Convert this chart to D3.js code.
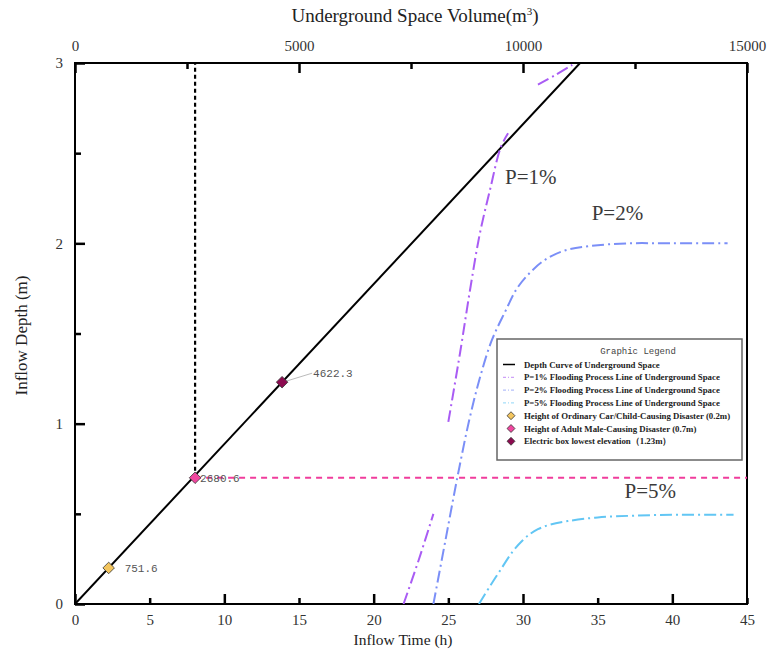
<!DOCTYPE html>
<html>
<head>
<meta charset="utf-8">
<script src="https://cdn.jsdelivr.net/npm/d3@7"></script>
<style>
  body { margin: 0; background: #fff; }
  svg { display: block; }
</style>
</head>
<body>
<script>
'use strict';

// ---- data ----
const timeTicks = [0, 5, 10, 15, 20, 25, 30, 35, 40, 45];
const volumeTicks = [0, 5000, 10000, 15000];
const depthTicks = [0, 1, 2, 3];

// depth curve of underground space: volume (m3) vs depth (m)
const depthCurveVolume = [0, 11274];
const depthCurveDepth = [0, 3];

// flooding process lines (time h, depth m); null = gap in the drawn line
const p1Time  = [22.0, 23.0, 24.0, null, 25.0, 25.8, 26.45, 27.1, 27.8, 28.5, 29.0, null, 31.0, 32.1, 33.3];
const p1Depth = [0, 0.24, 0.5, null, 1.01, 1.40, 1.74, 2.05, 2.30, 2.53, 2.61, null, 2.88, 2.93, 2.99];

const p2Time  = [24.0, 24.8, 25.6, 26.4, 27.1, 27.9, 28.8, 29.6, 30.5, 31.5, 32.8, 34.5, 37.0, 40.0, 43.7];
const p2Depth = [0, 0.35, 0.70, 1.02, 1.25, 1.46, 1.62, 1.75, 1.84, 1.91, 1.96, 1.985, 2.0, 2.0, 2.0];

const p5Time  = [27.05, 27.8, 28.5, 29.3, 30.0, 30.5, 31.0, 31.8, 33.0, 35.0, 37.5, 40.5, 44.1];
const p5Depth = [0, 0.10, 0.19, 0.29, 0.355, 0.39, 0.415, 0.44, 0.46, 0.48, 0.49, 0.495, 0.495];

// critical heights on the depth curve
const markerVolume = [751.6, 2680.6, 4622.3];
const markerDepth = [0.2, 0.7, 1.23];

const seriesNames = ['P=1%', 'P=2%', 'P=5%'];
const seriesLabelTime = [28.8, 34.6, 36.8];
const seriesLabelDepth = [2.33, 2.13, 0.59];

const legendLabels = [
  'Depth Curve of Underground Space',
  'P=1% Flooding Process Line of Underground Space',
  'P=2% Flooding Process Line of Underground Space',
  'P=5% Flooding Process Line of Underground Space',
  'Height of Ordinary Car/Child-Causing Disaster (0.2m)',
  'Height of Adult  Male-Causing Disaster (0.7m)',
  'Electric box lowest elevation\uFF081.23m\uFF09'
];

// ---- layout ----
const width = 768, height = 656;
const margin = { left: 75, right: 21, top: 63, bottom: 52 };
const serif = '"Liberation Serif", "Times New Roman", serif';
const lineColors = ['#a95cf4', '#7b8ff7', '#62c6f4'];
const markerColors = ['#f3c55e', '#f0469f', '#8c0b50'];

const svg = d3.select('body').append('svg')
  .attr('width', width)
  .attr('height', height);

const x = d3.scaleLinear().domain([0, 45]).range([margin.left, width - margin.right]);
const xv = d3.scaleLinear().domain([0, 15000]).range([margin.left, width - margin.right]);
const y = d3.scaleLinear().domain([0, 3]).range([height - margin.bottom, margin.top]);

const plotW = width - margin.left - margin.right;
const plotH = height - margin.top - margin.bottom;

svg.append('defs').append('clipPath').attr('id', 'plotclip')
  .append('rect')
  .attr('x', margin.left).attr('y', margin.top)
  .attr('width', plotW).attr('height', plotH);

// ---- axes: d3 axes with inward ticks ----
function styleAxis(g) {
  g.select('.domain').remove();
  g.selectAll('.tick line').attr('stroke', '#000').attr('stroke-width', 2.5);
  g.selectAll('.tick text')
    .attr('fill', '#333')
    .style('font-family', serif)
    .style('font-size', '15px');
}

const isMajor = (d, list) => list.some(v => Math.abs(v - d) < 1e-9);

// bottom: every 5 h, longer marks every 10 h
svg.append('g')
  .attr('transform', `translate(0,${y(0)})`)
  .call(d3.axisBottom(x).tickValues(timeTicks).tickFormat(d => d)
    .tickSizeInner(-5).tickSizeOuter(0).tickPadding(10))
  .call(styleAxis)
  .call(g => g.selectAll('.tick line').attr('y2', d => d % 10 === 0 ? -10 : -6));

// top: volume, minor marks every 2500
svg.append('g')
  .attr('transform', `translate(0,${y(3)})`)
  .call(d3.axisTop(xv).tickValues(d3.range(0, 15001, 2500))
    .tickFormat(d => isMajor(d, volumeTicks) ? d : '')
    .tickSizeInner(-6).tickSizeOuter(0).tickPadding(12))
  .call(styleAxis)
  .call(g => g.selectAll('.tick line').attr('y2', d => isMajor(d, volumeTicks) ? 10 : 6));

// left: depth, minor marks every 0.5
svg.append('g')
  .attr('transform', `translate(${x(0)},0)`)
  .call(d3.axisLeft(y).tickValues(d3.range(0, 3.01, 0.5))
    .tickFormat(d => isMajor(d, depthTicks) ? d : '')
    .tickSizeInner(-6).tickSizeOuter(0).tickPadding(12))
  .call(styleAxis)
  .call(g => g.selectAll('.tick line').attr('x2', d => isMajor(d, depthTicks) ? 10 : 6));

// frame
svg.append('rect')
  .attr('x', margin.left).attr('y', margin.top)
  .attr('width', plotW).attr('height', plotH)
  .attr('fill', 'none').attr('stroke', '#000').attr('stroke-width', 2);

// axis titles
svg.append('text')
  .attr('x', 415).attr('y', 22)
  .attr('text-anchor', 'middle')
  .style('font-family', serif).style('font-size', '19px').attr('fill', '#222')
  .html('Underground Space Volume(m<tspan dy="-7" font-size="11px">3</tspan><tspan dy="7">)</tspan>');

svg.append('text')
  .attr('x', 403).attr('y', 645)
  .attr('text-anchor', 'middle')
  .style('font-family', serif).style('font-size', '15.5px').attr('fill', '#222')
  .text('Inflow Time (h)');

svg.append('text')
  .attr('transform', `translate(27,${(margin.top + height - margin.bottom) / 2 + 2}) rotate(-90)`)
  .attr('text-anchor', 'middle')
  .style('font-family', serif).style('font-size', '17px').attr('fill', '#222')
  .text('Inflow Depth (m)');

const plot = svg.append('g').attr('clip-path', 'url(#plotclip)');

// reference lines at the adult male height
const mx = xv(markerVolume[1]);
plot.append('line')
  .attr('x1', mx).attr('x2', mx)
  .attr('y1', y(markerDepth[1])).attr('y2', y(3))
  .attr('stroke', '#000').attr('stroke-width', 2.2).attr('stroke-dasharray', '4,3');

plot.append('line')
  .attr('x1', mx).attr('x2', x(45))
  .attr('y1', y(markerDepth[1])).attr('y2', y(markerDepth[1]))
  .attr('stroke', '#f03c9c').attr('stroke-width', 2).attr('stroke-dasharray', '6,5');

// depth curve
plot.append('path')
  .datum(d3.zip(depthCurveVolume, depthCurveDepth))
  .attr('d', d3.line().x(d => xv(d[0])).y(d => y(d[1])))
  .attr('fill', 'none').attr('stroke', '#000').attr('stroke-width', 2);

// flooding process lines
const floodLine = d3.line()
  .defined(d => d[0] !== null)
  .x(d => x(d[0])).y(d => y(d[1]))
  .curve(d3.curveCatmullRom.alpha(0.5));

const floods = [d3.zip(p1Time, p1Depth), d3.zip(p2Time, p2Depth), d3.zip(p5Time, p5Depth)];
floods.forEach((pts, i) => {
  plot.append('path')
    .datum(pts)
    .attr('d', floodLine)
    .attr('fill', 'none')
    .attr('stroke', lineColors[i])
    .attr('stroke-width', 2)
    .attr('stroke-dasharray', '12,4,2,4');
});

// series labels
seriesNames.forEach((name, i) => {
  svg.append('text')
    .attr('x', x(seriesLabelTime[i])).attr('y', y(seriesLabelDepth[i]))
    .style('font-family', serif).style('font-size', '21px').attr('fill', '#3a3a3a')
    .text(name);
});

// markers
const diamond = d3.symbol().type(d3.symbolDiamond2).size(85);
const labelDx = [16, 5, 31];
const labelDy = [4, 4, -5];
markerVolume.forEach((v, i) => {
  const px = xv(v), py = y(markerDepth[i]);
  if (i === 2) {
    svg.append('line')
      .attr('x1', px + 4).attr('y1', py - 1)
      .attr('x2', px + labelDx[i] - 1).attr('y2', py + labelDy[i] - 4)
      .attr('stroke', '#bbb').attr('stroke-width', 1);
  }
  svg.append('path')
    .attr('d', diamond)
    .attr('transform', `translate(${px},${py})`)
    .attr('fill', markerColors[i]).attr('stroke', '#333').attr('stroke-width', 0.8);
  svg.append('text')
    .attr('x', px + labelDx[i]).attr('y', py + labelDy[i])
    .style('font-family', '"Liberation Mono", "DejaVu Sans Mono", monospace')
    .style('font-size', '11px').attr('fill', '#555')
    .text(d3.format('.1f')(v));
});

// ---- legend ----
const lg = svg.append('g').attr('transform', 'translate(497,339)');
lg.append('rect')
  .attr('width', 245).attr('height', 121)
  .attr('fill', '#fff').attr('stroke', '#666').attr('stroke-width', 1.5);
lg.append('text')
  .attr('x', 141).attr('y', 15)
  .attr('text-anchor', 'middle')
  .style('font-family', '"Liberation Mono", "DejaVu Sans Mono", monospace')
  .style('font-size', '9px').attr('fill', '#444')
  .text('Graphic Legend');

const rows = lg.selectAll('g.row')
  .data(legendLabels)
  .enter().append('g')
  .attr('class', 'row')
  .attr('transform', (d, i) => `translate(0,${28.5 + i * 12.8})`);

rows.append('text')
  .attr('x', 27).attr('y', 0)
  .style('font-family', serif).style('font-size', '8.8px').style('font-weight', 'bold')
  .attr('fill', '#222')
  .text(d => d);

rows.each(function(d, i) {
  const g = d3.select(this);
  if (i === 0) {
    g.append('line').attr('x1', 6).attr('x2', 18).attr('y1', -3).attr('y2', -3)
      .attr('stroke', '#000').attr('stroke-width', 1.5);
  } else if (i < 4) {
    g.append('line').attr('x1', 6).attr('x2', 18).attr('y1', -3).attr('y2', -3)
      .attr('stroke', lineColors[i - 1]).attr('stroke-width', 1)
      .attr('stroke-dasharray', '3,2,1,2').attr('opacity', 0.7);
  } else {
    g.append('path')
      .attr('d', d3.symbol().type(d3.symbolDiamond2).size(40))
      .attr('transform', 'translate(14,-3)')
      .attr('fill', markerColors[i - 4]).attr('stroke', '#333').attr('stroke-width', 0.8);
  }
});

// fit the longest legend line to the box width
const texts = rows.selectAll('text').nodes();
const longest = d3.max(texts, n => n.getComputedTextLength());
if (longest > 208) {
  rows.selectAll('text').style('font-size', (8.8 * 208 / longest) + 'px');
}
</script>
</body>
</html>
